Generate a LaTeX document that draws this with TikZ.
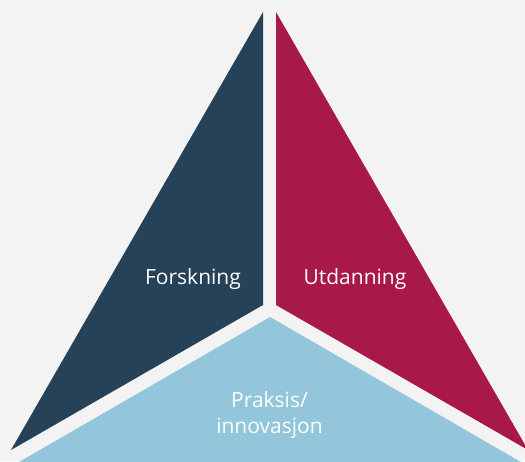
\documentclass[tikz,border=0pt]{standalone}
\usepackage{fontspec}
\setsansfont{Open Sans}
\definecolor{bggray}{HTML}{F3F3F3}
\definecolor{forskblue}{HTML}{254259}
\definecolor{utdred}{HTML}{A8184B}
\definecolor{praksblue}{HTML}{93C6DA}
\tikzset{
  face/.style={fill=#1,draw=none},
  lbl/.style={text=white,align=center,inner sep=0,anchor=base,
    font=\sffamily\fontsize{21}{26}\selectfont},
}

\begin{document}
\begin{tikzpicture}[x=1pt,y=-1pt]
    \useasboundingbox (0,0) rectangle (525,461);
    \fill[bggray] (0,0) rectangle (525,461);
    \clip (0,0) rectangle (525,461);

    \fill[face=forskblue] (263,12) -- (263,305) -- (11,450) -- cycle;
    \fill[face=utdred] (276,12) -- (276,305) -- (528,450) -- cycle;
    \fill[face=praksblue] (270,317) -- +(-270,156) -- +(270,156) -- cycle;

    \node[lbl] (forskning) at (193,284) {Forskning};
    \node[lbl] (utdanning) at (355,284) {Utdanning};
    \node[lbl] (praksis) at (269.5,433) {Praksis/\\innovasjon};
\end{tikzpicture}
\end{document}
